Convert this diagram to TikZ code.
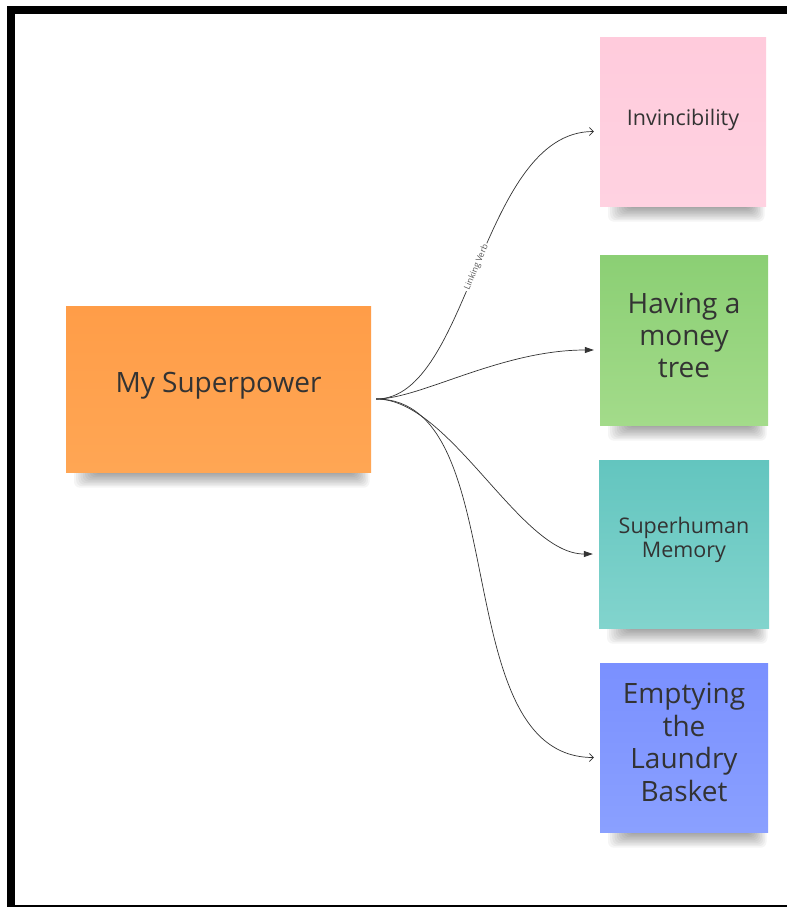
\documentclass[tikz,border=0pt]{standalone}
\usepackage{fontspec}
\setmainfont{Open Sans}
\usetikzlibrary{arrows.meta,backgrounds}

\definecolor{inkgray}{HTML}{333333}
\definecolor{labelgray}{HTML}{555555}
\definecolor{orangeA}{HTML}{FF9D48}
\definecolor{orangeB}{HTML}{FFA654}
\definecolor{pinkA}{HTML}{FFCBDC}
\definecolor{pinkB}{HTML}{FFD2E1}
\definecolor{greenA}{HTML}{8BCF74}
\definecolor{greenB}{HTML}{A3DB8A}
\definecolor{tealA}{HTML}{63C5BF}
\definecolor{tealB}{HTML}{82D4CD}
\definecolor{blueA}{HTML}{7A90FF}
\definecolor{blueB}{HTML}{8AA0FF}

\tikzset{
  sticky/.style={rectangle, inner sep=0pt, draw=none},
  stickytext/.style={align=center, text=inkgray, inner sep=0pt},
  shadowlayer/.style={black, opacity=0.04, rounded corners=6pt},
  link/.style={draw=inkgray, line width=0.7pt},
  openhead/.style={-{Straight Barb[length=4pt,width=8pt]}},
  solidhead/.style={-{Triangle[length=9pt,width=6pt]}},
}

% soft drop shadow under the lower edge of a note
\newcommand\noteshadow[1]{%
  \foreach \k in {0,...,9}{%
    \fill[shadowlayer]
      ([xshift={28pt-\k*2.2pt}, yshift={14pt}]#1.south west) rectangle
      ([xshift={-16pt+\k*1.6pt}, yshift={-2pt-\k*1.5pt}]#1.south east);
  }}

\begin{document}
\begin{tikzpicture}[x=1pt,y=-1pt]
  \useasboundingbox (0,0) rectangle (787,908);
  \begin{scope}[on background layer]
    \fill[white] (0,0) rectangle (787,908);
  \end{scope}

  % frame
  \fill[black] (7,6) rectangle (787,14);
  \fill[black] (7,6) rectangle (15,907);
  \fill[black] (7,905) rectangle (787,907);

  % sticky notes
  \node[sticky, top color=orangeA, bottom color=orangeB,
        minimum width=305pt, minimum height=166pt] (sp) at (218.5,389) {};
  \node[sticky, top color=pinkA, bottom color=pinkB,
        minimum width=166pt, minimum height=169pt] (inv) at (683,121.5) {};
  \node[sticky, top color=greenA, bottom color=greenB,
        minimum width=168pt, minimum height=170pt] (mt) at (684,340) {};
  \node[sticky, top color=tealA, bottom color=tealB,
        minimum width=170pt, minimum height=168pt] (mem) at (684,544) {};
  \node[sticky, top color=blueA, bottom color=blueB,
        minimum width=168pt, minimum height=169pt] (lb) at (684,747.5) {};

  \begin{scope}[on background layer]
    \noteshadow{sp}
    \noteshadow{inv}
    \noteshadow{mt}
    \noteshadow{mem}
    \noteshadow{lb}
  \end{scope}

  % note texts
  \node[stickytext, font=\fontsize{28}{32}\selectfont] (sp-t)
    at ([yshift=3pt]sp.center) {My Superpower};
  \node[stickytext, font=\fontsize{21.5}{25}\selectfont] (inv-t)
    at ([yshift=2pt]inv.center) {Invincibility};
  \node[stickytext, font=\fontsize{28}{32}\selectfont] (mt-t)
    at ([yshift=5pt]mt.center) {Having a\\money\\tree};
  \node[stickytext, font=\fontsize{21.5}{24.5}\selectfont] (mem-t)
    at ([yshift=4pt]mem.center) {Superhuman\\Memory};
  \node[stickytext, font=\fontsize{28}{32.5}\selectfont] (lb-t)
    at ([yshift=5pt]lb.center) {Emptying\\the\\Laundry\\Basket};

  % connectors
  \draw[link, openhead] ([xshift=5pt,yshift=-10pt]sp.east)
    .. controls +(94,0) and +(-114,0) .. ([xshift=-6pt,yshift=-10pt]inv.west)
    node[pos=0.495, sloped, fill=white, inner xsep=1.5pt, inner ysep=0.5pt,
         text=labelgray, font=\fontsize{8.5}{9}\selectfont] (lv) {Linking Verb};
  \draw[link, solidhead] ([xshift=5pt,yshift=-10pt]sp.east)
    .. controls +(44,0) and +(-93,0) .. ([xshift=-6pt,yshift=-10pt]mt.west);
  \draw[link, solidhead] ([xshift=5pt,yshift=-10pt]sp.east)
    .. controls +(74,0) and +(-73,0) .. ([xshift=-6pt,yshift=-10pt]mem.west);
  \draw[link, openhead] ([xshift=5pt,yshift=-10pt]sp.east)
    .. controls +(140,0) and +(-150,0) .. ([xshift=-6pt,yshift=-10pt]lb.west);
\end{tikzpicture}
\end{document}
